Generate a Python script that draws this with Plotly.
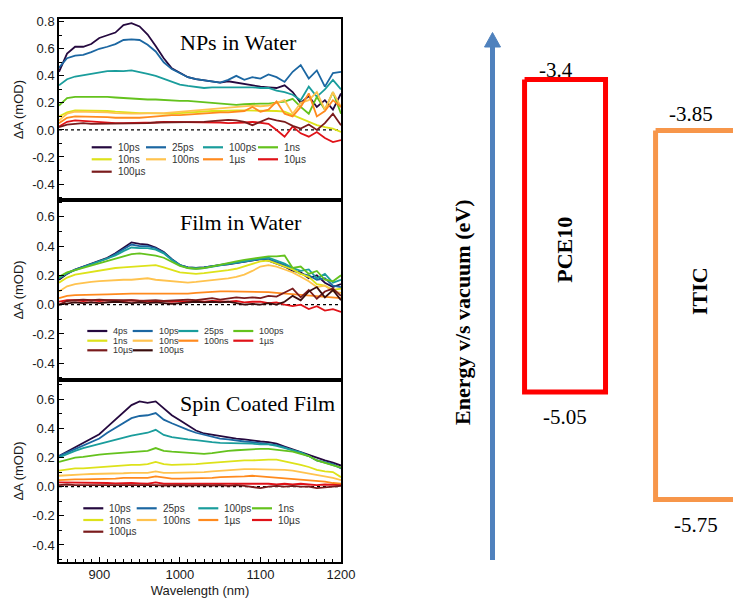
import plotly.graph_objects as go

# ---------------- data ----------------
wavelength = list(range(850, 1201, 10))

# Panel 1: NPs in Water
np_names = ["10ps", "25ps", "100ps", "1ns", "10ns", "100ns", "1\u00b5s", "10\u00b5s", "100\u00b5s"]
np_10ps = [0.43, 0.565, 0.615, 0.615, 0.635, 0.68, 0.70, 0.72, 0.775, 0.79, 0.765, 0.705, 0.62, 0.53, 0.455, 0.42, 0.39, 0.375, 0.365, 0.355, 0.35, 0.36, 0.35, 0.335, 0.33, 0.32, 0.315, 0.31, 0.33, 0.28, 0.20, 0.25, 0.17, 0.22, 0.15, 0.27]
np_25ps = [0.46, 0.53, 0.55, 0.555, 0.575, 0.60, 0.615, 0.635, 0.665, 0.67, 0.665, 0.63, 0.58, 0.50, 0.45, 0.42, 0.39, 0.375, 0.365, 0.355, 0.35, 0.37, 0.40, 0.37, 0.39, 0.38, 0.41, 0.39, 0.355, 0.43, 0.48, 0.38, 0.44, 0.32, 0.42, 0.43]
np_100ps = [0.33, 0.375, 0.395, 0.405, 0.42, 0.43, 0.435, 0.437, 0.435, 0.44, 0.43, 0.415, 0.40, 0.38, 0.36, 0.335, 0.325, 0.315, 0.31, 0.315, 0.315, 0.32, 0.32, 0.315, 0.315, 0.31, 0.31, 0.29, 0.28, 0.26, 0.22, 0.32, 0.245, 0.30, 0.37, 0.30]
np_1ns = [0.18, 0.235, 0.245, 0.245, 0.25, 0.25, 0.245, 0.24, 0.235, 0.23, 0.23, 0.225, 0.225, 0.22, 0.22, 0.215, 0.215, 0.21, 0.21, 0.205, 0.20, 0.19, 0.185, 0.19, 0.195, 0.195, 0.195, 0.205, 0.21, 0.23, 0.17, 0.12, 0.245, 0.15, 0.28, 0.12]
np_10ns = [0.10, 0.13, 0.145, 0.145, 0.145, 0.145, 0.14, 0.135, 0.13, 0.127, 0.125, 0.125, 0.12, 0.12, 0.12, 0.125, 0.13, 0.135, 0.135, 0.14, 0.14, 0.145, 0.145, 0.145, 0.145, 0.145, 0.145, 0.14, 0.135, 0.11, 0.085, 0.06, 0.035, 0.02, 0.01, -0.015]
np_100ns = [0.07, 0.12, 0.135, 0.135, 0.135, 0.135, 0.13, 0.125, 0.12, 0.12, 0.12, 0.125, 0.125, 0.125, 0.13, 0.135, 0.14, 0.145, 0.15, 0.155, 0.16, 0.165, 0.17, 0.175, 0.18, 0.175, 0.18, 0.20, 0.22, 0.12, 0.20, 0.22, 0.28, 0.15, 0.28, 0.17]
np_1us = [0.05, 0.09, 0.10, 0.10, 0.10, 0.10, 0.095, 0.09, 0.09, 0.085, 0.09, 0.095, 0.10, 0.11, 0.11, 0.11, 0.115, 0.12, 0.12, 0.125, 0.13, 0.13, 0.135, 0.14, 0.17, 0.135, 0.15, 0.21, 0.12, 0.10, 0.17, 0.27, 0.10, 0.14, 0.22, 0.17]
np_10us = [0.025, 0.06, 0.07, 0.065, 0.06, 0.06, 0.055, 0.05, 0.05, 0.05, 0.05, 0.055, 0.055, 0.06, 0.06, 0.06, 0.06, 0.06, 0.06, 0.055, 0.055, 0.05, 0.05, 0.055, 0.06, 0.05, 0.045, 0.0, -0.05, 0.025, -0.025, -0.05, -0.015, -0.06, -0.09, -0.075]
np_100us = [0.02, 0.04, 0.045, 0.05, 0.045, 0.045, 0.045, 0.05, 0.05, 0.05, 0.05, 0.05, 0.055, 0.055, 0.055, 0.055, 0.055, 0.06, 0.06, 0.065, 0.07, 0.075, 0.07, 0.06, 0.035, 0.06, 0.085, 0.07, 0.06, 0.03, 0.01, 0.04, 0.0, 0.05, 0.12, 0.035]

# Panel 2: Film in Water
fw_names = ["4ps", "10ps", "25ps", "100ps", "1ns", "10ns", "100ns", "1\u00b5s", "10\u00b5s", "100\u00b5s"]
fw_4ps = [0.17, 0.21, 0.24, 0.26, 0.285, 0.30, 0.32, 0.35, 0.39, 0.425, 0.415, 0.41, 0.39, 0.36, 0.31, 0.27, 0.255, 0.25, 0.255, 0.265, 0.27, 0.275, 0.285, 0.29, 0.30, 0.31, 0.30, 0.28, 0.26, 0.23, 0.22, 0.18, 0.20, 0.15, 0.12, 0.14]
fw_10ps = [0.18, 0.215, 0.24, 0.26, 0.28, 0.30, 0.315, 0.345, 0.38, 0.41, 0.40, 0.40, 0.385, 0.355, 0.31, 0.27, 0.255, 0.25, 0.255, 0.265, 0.27, 0.28, 0.285, 0.295, 0.305, 0.31, 0.31, 0.29, 0.27, 0.24, 0.21, 0.20, 0.17, 0.18, 0.13, 0.12]
fw_25ps = [0.18, 0.215, 0.235, 0.255, 0.275, 0.295, 0.31, 0.335, 0.365, 0.39, 0.385, 0.385, 0.375, 0.35, 0.305, 0.27, 0.25, 0.245, 0.25, 0.26, 0.27, 0.28, 0.29, 0.30, 0.31, 0.315, 0.32, 0.30, 0.28, 0.25, 0.23, 0.24, 0.18, 0.21, 0.15, 0.17]
fw_100ps = [0.19, 0.22, 0.235, 0.25, 0.27, 0.285, 0.30, 0.315, 0.33, 0.345, 0.35, 0.345, 0.335, 0.32, 0.295, 0.265, 0.25, 0.245, 0.25, 0.26, 0.27, 0.285, 0.295, 0.305, 0.315, 0.325, 0.33, 0.33, 0.335, 0.25, 0.26, 0.21, 0.23, 0.17, 0.16, 0.20]
fw_1ns = [0.15, 0.185, 0.205, 0.215, 0.225, 0.235, 0.245, 0.25, 0.255, 0.26, 0.265, 0.27, 0.27, 0.255, 0.235, 0.22, 0.215, 0.21, 0.215, 0.22, 0.225, 0.235, 0.245, 0.26, 0.28, 0.295, 0.30, 0.28, 0.265, 0.24, 0.21, 0.19, 0.14, 0.13, 0.10, 0.11]
fw_10ns = [0.09, 0.125, 0.14, 0.15, 0.155, 0.16, 0.165, 0.165, 0.17, 0.17, 0.175, 0.18, 0.17, 0.165, 0.16, 0.16, 0.15, 0.155, 0.16, 0.165, 0.17, 0.18, 0.19, 0.205, 0.23, 0.26, 0.27, 0.26, 0.24, 0.22, 0.19, 0.16, 0.12, 0.13, 0.09, 0.08]
fw_100ns = [0.045, 0.06, 0.065, 0.065, 0.07, 0.07, 0.07, 0.072, 0.075, 0.075, 0.075, 0.075, 0.075, 0.075, 0.075, 0.072, 0.075, 0.08, 0.085, 0.09, 0.09, 0.09, 0.09, 0.085, 0.085, 0.09, 0.085, 0.08, 0.075, 0.07, 0.065, 0.06, 0.055, 0.055, 0.05, 0.045]
fw_1us = [0.02, 0.03, 0.03, 0.025, 0.03, 0.025, 0.03, 0.025, 0.025, 0.03, 0.025, 0.025, 0.02, 0.025, 0.02, 0.025, 0.02, 0.025, 0.02, 0.025, 0.02, 0.02, 0.025, 0.015, 0.02, 0.02, 0.01, 0.015, 0.0, -0.01, 0.0, -0.03, -0.01, -0.04, -0.03, -0.05]
fw_10us = [0.0, 0.025, 0.03, 0.035, 0.03, 0.035, 0.03, 0.03, 0.035, 0.03, 0.025, 0.03, 0.03, 0.025, 0.03, 0.03, 0.035, 0.03, 0.04, 0.045, 0.035, 0.04, 0.05, 0.045, 0.05, 0.045, 0.06, 0.055, 0.08, 0.11, 0.05, 0.10, 0.04, 0.09, 0.11, 0.06]
fw_100us = [0.0, 0.01, 0.015, 0.01, 0.015, 0.01, 0.015, 0.02, 0.015, 0.01, 0.015, 0.01, 0.015, 0.01, 0.005, 0.01, 0.015, 0.02, 0.015, 0.02, 0.015, 0.02, 0.01, 0.0, 0.005, 0.0, 0.01, 0.0, 0.02, 0.06, 0.03, 0.09, 0.12, 0.05, 0.10, 0.03]

# Panel 3: Spin Coated Film
sc_names = ["10ps", "25ps", "100ps", "1ns", "10ns", "100ns", "1\u00b5s", "10\u00b5s", "100\u00b5s"]
sc_10ps = [0.21, 0.24, 0.27, 0.30, 0.33, 0.36, 0.41, 0.46, 0.51, 0.56, 0.585, 0.575, 0.585, 0.535, 0.49, 0.455, 0.42, 0.385, 0.365, 0.355, 0.345, 0.34, 0.33, 0.325, 0.315, 0.31, 0.305, 0.295, 0.275, 0.255, 0.24, 0.22, 0.195, 0.18, 0.165, 0.145]
sc_25ps = [0.21, 0.235, 0.26, 0.285, 0.31, 0.33, 0.37, 0.405, 0.44, 0.47, 0.485, 0.49, 0.505, 0.46, 0.435, 0.41, 0.39, 0.37, 0.355, 0.34, 0.33, 0.325, 0.315, 0.31, 0.305, 0.30, 0.295, 0.285, 0.27, 0.25, 0.235, 0.21, 0.18, 0.17, 0.155, 0.125]
sc_100ps = [0.20, 0.225, 0.245, 0.265, 0.28, 0.29, 0.305, 0.32, 0.335, 0.35, 0.36, 0.37, 0.39, 0.355, 0.34, 0.33, 0.325, 0.32, 0.31, 0.305, 0.30, 0.30, 0.30, 0.30, 0.295, 0.29, 0.29, 0.28, 0.265, 0.25, 0.235, 0.21, 0.18, 0.165, 0.15, 0.13]
sc_1ns = [0.17, 0.185, 0.20, 0.205, 0.215, 0.22, 0.225, 0.23, 0.235, 0.24, 0.24, 0.245, 0.265, 0.245, 0.24, 0.235, 0.23, 0.23, 0.225, 0.23, 0.24, 0.245, 0.25, 0.255, 0.255, 0.26, 0.26, 0.255, 0.25, 0.24, 0.225, 0.21, 0.18, 0.165, 0.15, 0.13]
sc_10ns = [0.11, 0.12, 0.125, 0.125, 0.13, 0.13, 0.135, 0.14, 0.145, 0.15, 0.15, 0.155, 0.17, 0.155, 0.15, 0.15, 0.15, 0.155, 0.16, 0.165, 0.165, 0.17, 0.175, 0.18, 0.18, 0.185, 0.185, 0.185, 0.175, 0.16, 0.15, 0.135, 0.115, 0.105, 0.10, 0.065]
sc_100ns = [0.075, 0.08, 0.085, 0.085, 0.087, 0.087, 0.09, 0.09, 0.092, 0.095, 0.095, 0.095, 0.105, 0.095, 0.095, 0.095, 0.10, 0.10, 0.10, 0.105, 0.11, 0.11, 0.115, 0.12, 0.12, 0.12, 0.12, 0.12, 0.115, 0.11, 0.10, 0.09, 0.08, 0.07, 0.06, 0.045]
sc_1us = [0.045, 0.05, 0.05, 0.05, 0.05, 0.05, 0.055, 0.055, 0.06, 0.06, 0.06, 0.06, 0.07, 0.06, 0.055, 0.055, 0.055, 0.06, 0.06, 0.06, 0.065, 0.065, 0.07, 0.07, 0.075, 0.07, 0.07, 0.065, 0.06, 0.055, 0.05, 0.045, 0.04, 0.035, 0.025, 0.02]
sc_10us = [0.03, 0.03, 0.027, 0.025, 0.025, 0.025, 0.025, 0.022, 0.025, 0.025, 0.022, 0.02, 0.03, 0.02, 0.02, 0.02, 0.02, 0.022, 0.02, 0.02, 0.025, 0.02, 0.02, 0.022, 0.02, 0.02, 0.02, 0.015, 0.02, 0.015, 0.02, 0.015, 0.01, 0.015, 0.01, 0.01]
sc_100us = [0.01, 0.015, 0.01, 0.01, 0.012, 0.01, 0.01, 0.01, 0.012, 0.01, 0.01, 0.015, 0.01, 0.008, 0.01, 0.01, 0.008, 0.01, 0.01, 0.008, 0.01, 0.005, 0.01, 0.005, 0.0, -0.01, 0.0, 0.005, 0.0, 0.005, 0.0, 0.0, -0.01, -0.005, 0.0, 0.005]

panel_titles = ["NPs in Water", "Film in Water", "Spin Coated Film"]

# tick labels
x_tickvals = [900, 1000, 1100, 1200]
x_ticktext = ["900", "1000", "1100", "1200"]
y1_tickvals = [-0.4, -0.2, 0.0, 0.2, 0.4, 0.6, 0.8]
y1_ticktext = ["-0.4", "-0.2", "0.0", "0.2", "0.4", "0.6", "0.8"]
y23_tickvals = [-0.4, -0.2, 0.0, 0.2, 0.4, 0.6]
y23_ticktext = ["-0.4", "-0.2", "0.0", "0.2", "0.4", "0.6"]

# Energy level diagram
materials = ["PCE10", "ITIC"]
lumo = [-3.4, -3.85]
homo = [-5.05, -5.75]

# ---------------- styles ----------------
W, H = 733, 598
pal9 = ["#25093f", "#1c67a2", "#1a9d9c", "#64c21d", "#dde21a", "#ffc34f", "#ff8a1e", "#e01218", "#7a1b1c"]
pal10 = ["#25093f", "#1c67a2", "#1a9d9c", "#64c21d", "#dde21a", "#ffc34f", "#ff8a1e", "#e01218", "#7a1b1c", "#3a0d0d"]
box_colors = ["#ff0000", "#f7964a"]
arrow_color = "#4f81bd"
sans = "Liberation Sans, Arial, sans-serif"
serif = "Liberation Serif, Times New Roman, serif"


def px(x):
    return x / W


def py(y):
    return 1 - y / H


panels = [
    (np_names, [np_10ps, np_25ps, np_100ps, np_1ns, np_10ns, np_100ns, np_1us, np_10us, np_100us], pal9),
    (fw_names, [fw_4ps, fw_10ps, fw_25ps, fw_100ps, fw_1ns, fw_10ns, fw_100ns, fw_1us, fw_10us, fw_100us], pal10),
    (sc_names, [sc_10ps, sc_25ps, sc_100ps, sc_1ns, sc_10ns, sc_100ns, sc_1us, sc_10us, sc_100us], pal9),
]

fig = go.Figure()
for p, (names, series, pal) in enumerate(panels):
    xa = "x" if p == 0 else f"x{p+1}"
    ya = "y" if p == 0 else f"y{p+1}"
    for name, vals, col in zip(names, series, pal):
        fig.add_trace(go.Scatter(x=wavelength, y=vals, name=name, mode="lines",
                                 line=dict(color=col, width=1.8), xaxis=xa, yaxis=ya,
                                 showlegend=False, hoverinfo="skip"))

# Energy boxes (two overlaid hidden y-axes: schematic scale per material)
half_w = 0.309
for i, (m, lo, hi, col) in enumerate(zip(materials, lumo, homo, box_colors)):
    fig.add_trace(go.Scatter(
        x=[i - half_w, i + half_w, i + half_w, i - half_w, i - half_w],
        y=[lo, lo, hi, hi, lo], mode="lines",
        line=dict(color=col, width=5), xaxis="x4", yaxis="y4" if i == 0 else "y5",
        showlegend=False, hoverinfo="skip", cliponaxis=False))

x_dom = [px(59), px(341)]
y_doms = [[py(200), py(19.3)], [py(380), py(200)], [py(562), py(380)]]
y_ranges = [[-0.518, 0.818], [-0.514, 0.714], [-0.517, 0.732]]

axis_common = dict(showline=True, linecolor="black", linewidth=1.5, mirror=True,
                   showgrid=False, zeroline=False)
layout = dict(
    width=W, height=H, margin=dict(l=0, r=0, t=0, b=0, autoexpand=False),
    paper_bgcolor="white", plot_bgcolor="rgba(0,0,0,0)", showlegend=False,
)
for p in range(3):
    xk = "xaxis" if p == 0 else f"xaxis{p+1}"
    yk = "yaxis" if p == 0 else f"yaxis{p+1}"
    ya = "y" if p == 0 else f"y{p+1}"
    xa = "x" if p == 0 else f"x{p+1}"
    xax = dict(domain=x_dom, anchor=ya, range=[850, 1200], **axis_common)
    if p == 2:
        xax.update(ticks="inside", ticklen=5, tickwidth=1, tickcolor="black",
                   tickmode="array", tickvals=x_tickvals, ticktext=x_ticktext,
                   tickfont=dict(family=sans, size=13, color="#1a1a1a"),
                   minor=dict(ticks="inside", ticklen=3, dtick=10, tick0=850, tickcolor="black"),
                   title=dict(text="Wavelength (nm)", font=dict(family=sans, size=13, color="#1a1a1a"), standoff=7))
    else:
        xax.update(showticklabels=False, ticks="")
    layout[xk] = xax
    tv = y1_tickvals if p == 0 else y23_tickvals
    tt = y1_ticktext if p == 0 else y23_ticktext
    layout[yk] = dict(domain=y_doms[p], anchor=xa, range=y_ranges[p], **axis_common,
                      ticks="inside", ticklen=5, tickwidth=1, tickcolor="black",
                      tickmode="array", tickvals=tv, ticktext=tt,
                      tickfont=dict(family=sans, size=13, color="#1a1a1a"),
                      minor=dict(ticks="inside", ticklen=3, dtick=0.1, tick0=0, tickcolor="black"),
                      title=dict(text="\u0394A (mOD)", font=dict(family=sans, size=13, color="#1a1a1a"), standoff=6))

# energy diagram axes
layout["xaxis4"] = dict(domain=[0.6, 1], anchor="y4", range=[-0.956, 1.282], visible=False)
layout["yaxis4"] = dict(domain=[0, 1], anchor="x4", range=[-6.138, -2.980], visible=False)
layout["yaxis5"] = dict(domain=[0, 1], anchor="x4", overlaying="y4", range=[-6.257, -3.178], visible=False)
fig.update_layout(**layout)

# zero dotted lines
for p in range(3):
    xa = "x" if p == 0 else f"x{p+1}"
    ya = "y" if p == 0 else f"y{p+1}"
    fig.add_shape(type="line", xref=f"{xa} domain", yref=ya, x0=0, x1=1, y0=0, y1=0,
                  line=dict(color="black", width=1.3, dash="3px,3px"), layer="below")

# panel titles
title_y = [43, 223, 403]
for t, yy in zip(panel_titles, title_y):
    fig.add_annotation(text=t, xref="paper", yref="paper", x=px(178), y=py(yy),
                       xanchor="left", yanchor="middle", showarrow=False,
                       font=dict(family=serif, size=22, color="black"))

# hand-drawn style legends (3 rows x 4 columns inside each panel)
leg_cols = [[91.7, 146, 203, 258], [87.3, 132.7, 178.3, 233.3], [83.3, 136.7, 198.3, 252]]
leg_rows = [[147.3, 159.3, 171.7], [331, 340.7, 350.3], [508.3, 520, 531.7]]
leg_font = [10, 9, 10]
for p, (names, series, pal) in enumerate(panels):
    for k, (name, col) in enumerate(zip(names, pal)):
        r, c = divmod(k, 4)
        x0 = leg_cols[p][c]
        yy = leg_rows[p][r]
        fig.add_shape(type="line", xref="paper", yref="paper", x0=px(x0), x1=px(x0 + 20),
                      y0=py(yy), y1=py(yy), line=dict(color=col, width=2.2))
        fig.add_annotation(text=name, xref="paper", yref="paper", x=px(x0 + 24), y=py(yy),
                           xanchor="left", yanchor="middle", showarrow=False,
                           font=dict(family=sans, size=leg_font[p], color="#333333"))

# energy arrow
fig.add_shape(type="line", xref="paper", yref="paper", x0=px(492.5), x1=px(492.5),
              y0=py(560), y1=py(46), line=dict(color=arrow_color, width=5))
fig.add_shape(type="path", xref="paper", yref="paper",
              path=f"M {px(484.5)},{py(47)} L {px(500.5)},{py(47)} L {px(492.5)},{py(32.5)} Z",
              fillcolor=arrow_color, line=dict(color=arrow_color, width=1))
fig.add_annotation(text="<b>Energy v/s vacuum (eV)</b>", xref="paper", yref="paper",
                   x=px(462), y=py(312), textangle=-90, showarrow=False,
                   font=dict(family=serif, size=22, color="black"))

# energy labels
lumo_shift = [(-9, 10), (-5, 17)]
name_shift = [(0, -14), (3, 24)]
for i, (m, lo, hi) in enumerate(zip(materials, lumo, homo)):
    ya = "y4" if i == 0 else "y5"
    fig.add_annotation(text=f"{lo:g}", xref="x4", yref=ya, x=i, y=lo, xshift=lumo_shift[i][0],
                       yshift=lumo_shift[i][1], showarrow=False,
                       font=dict(family=serif, size=21, color="black"))
    fig.add_annotation(text=f"{hi:g}", xref="x4", yref=ya, x=i, y=hi, yshift=-25,
                       showarrow=False, font=dict(family=serif, size=21, color="black"))
    fig.add_annotation(text=f"<b>{m}</b>", xref="x4", yref=ya, x=i, y=(lo + hi) / 2,
                       xshift=name_shift[i][0], yshift=name_shift[i][1], textangle=-90,
                       showarrow=False, font=dict(family=serif, size=22, color="black"))

fig.write_html("out.html", config={"displayModeBar": False},
               post_script="document.body.style.margin='0px';")
